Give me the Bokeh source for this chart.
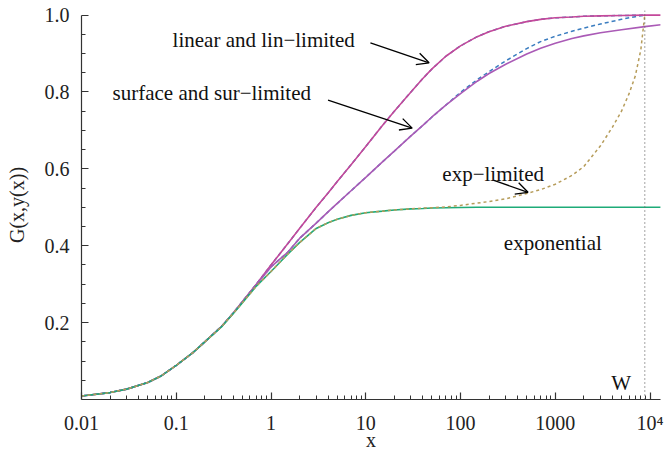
from bokeh.plotting import figure
from bokeh.models import Range1d, FixedTicker, Span, Arrow, OpenHead, Label
from bokeh.embed import file_html
from bokeh.resources import INLINE

# ---------------- data ----------------
W = 8800

x_vals = [0.01, 0.02, 0.03, 0.05, 0.07, 0.1, 0.15, 0.2, 0.3, 0.4, 0.5, 0.7, 1, 1.5, 2, 3,
          4, 5, 7, 10, 15, 20, 30, 40, 50, 70, 100, 150, 200, 300, 500, 700, 1000, 1500,
          2000, 3000, 5000, 8800, 13000]

linear = [0.009, 0.018, 0.027, 0.044, 0.062, 0.089, 0.122, 0.150, 0.190, 0.225, 0.255,
          0.300, 0.350, 0.405, 0.445, 0.500, 0.537, 0.567, 0.611, 0.658, 0.713, 0.750,
          0.800, 0.835, 0.860, 0.893, 0.920, 0.944, 0.957, 0.971, 0.983, 0.989, 0.993,
          0.995, 0.997, 0.998, 0.999, 1.000, 1.000]

surface = [0.009, 0.018, 0.027, 0.044, 0.062, 0.089, 0.122, 0.150, 0.190, 0.225, 0.254,
           0.299, 0.345, 0.383, 0.419, 0.459, 0.488, 0.510, 0.543, 0.578, 0.618, 0.646,
           0.686, 0.713, 0.735, 0.766, 0.796, 0.828, 0.848, 0.872, 0.899, 0.914, 0.927,
           0.939, 0.946, 0.954, 0.962, 0.970, 0.975]

exponential = [0.009, 0.018, 0.027, 0.044, 0.062, 0.089, 0.122, 0.150, 0.189, 0.224, 0.252,
               0.295, 0.333, 0.378, 0.408, 0.445, 0.460, 0.469, 0.479, 0.486, 0.490, 0.493,
               0.496, 0.497, 0.498, 0.499, 0.4995, 0.500, 0.500, 0.500, 0.500, 0.500, 0.500,
               0.500, 0.500, 0.500, 0.500, 0.500, 0.500]

x_lim = [0.01, 0.02, 0.03, 0.05, 0.07, 0.1, 0.15, 0.2, 0.3, 0.4, 0.5, 0.7, 1, 1.5, 2, 3,
         4, 5, 7, 10, 15, 20, 30, 40, 50, 70, 100, 150, 200, 300, 500, 700, 1000, 1500,
         2000, 3000, 5000, 7000, 8800]

lin_limited = [0.009, 0.018, 0.027, 0.044, 0.062, 0.089, 0.122, 0.150, 0.190, 0.225, 0.255,
               0.300, 0.350, 0.405, 0.445, 0.500, 0.537, 0.567, 0.611, 0.658, 0.713, 0.750,
               0.800, 0.835, 0.860, 0.893, 0.920, 0.944, 0.957, 0.971, 0.983, 0.989, 0.993,
               0.995, 0.997, 0.998, 0.999, 0.9995, 1.000]

sur_limited = [0.009, 0.018, 0.027, 0.044, 0.062, 0.089, 0.122, 0.150, 0.190, 0.225, 0.254,
               0.299, 0.345, 0.383, 0.419, 0.459, 0.488, 0.510, 0.543, 0.578, 0.618, 0.646,
               0.686, 0.713, 0.735, 0.766, 0.799, 0.832, 0.853, 0.881, 0.913, 0.931, 0.945,
               0.958, 0.966, 0.977, 0.989, 0.996, 1.000]

x_explim = [0.01, 0.02, 0.03, 0.05, 0.07, 0.1, 0.15, 0.2, 0.3, 0.4, 0.5, 0.7, 1, 1.5, 2, 3,
            4, 5, 7, 10, 15, 20, 30, 40, 50, 70, 100, 150, 200, 300, 500, 700, 1000, 1500,
            2000, 3000, 4000, 5000, 6000, 7000, 8000, 8800]

exp_limited = [0.009, 0.018, 0.027, 0.044, 0.062, 0.089, 0.122, 0.150, 0.189, 0.224, 0.252,
               0.295, 0.333, 0.378, 0.408, 0.445, 0.460, 0.469, 0.479, 0.486, 0.490, 0.493,
               0.496, 0.498, 0.499, 0.501, 0.505, 0.511, 0.515, 0.522, 0.536, 0.546, 0.560,
               0.583, 0.606, 0.660, 0.708, 0.750, 0.795, 0.842, 0.910, 1.000]

x_ticks = [0.01, 0.1, 1, 10, 100, 1000, 10000]
x_tick_labels = ["0.01", "0.1", "1", "10", "100", "1000", "10⁴"]
x_minor = [k * 10.0 ** d for d in range(-2, 5) for k in range(2, 10)]

y_ticks = [0.2, 0.4, 0.6, 0.8, 1.0]
y_tick_labels = ["0.2", "0.4", "0.6", "0.8", "1.0"]
y_minor = [0.05, 0.1, 0.15, 0.25, 0.3, 0.35, 0.45, 0.5, 0.55, 0.65, 0.7, 0.75, 0.85, 0.9, 0.95]

# ---------------- styling ----------------
FONT = "Liberation Serif"
C_LIN = "#c4489a"
C_SUR = "#aa5ab6"
C_EXP = "#1eab78"
C_BLUE = "#3b7dc0"
C_TAN = "#b69c5a"

p = figure(width=665, height=459, x_axis_type="log",
           x_range=Range1d(0.01, 12900), y_range=Range1d(0, 1.012),
           output_backend="svg", toolbar_location=None,
           min_border_left=81, min_border_right=5, min_border_top=10, min_border_bottom=60)

p.outline_line_color = None
p.xgrid.grid_line_color = None
p.ygrid.grid_line_color = None
p.background_fill_color = "white"

p.xaxis.ticker = FixedTicker(ticks=x_ticks, minor_ticks=x_minor)
p.xaxis.major_label_overrides = dict(zip(x_ticks, x_tick_labels))
p.yaxis.ticker = FixedTicker(ticks=y_ticks, minor_ticks=y_minor)
p.yaxis.major_label_overrides = dict(zip(y_ticks, y_tick_labels))
p.yaxis.bounds = (0, 1)

p.xaxis.axis_label = "x"
p.yaxis.axis_label = "G(x,y(x))"

for ax in (p.xaxis[0], p.yaxis[0]):
    ax.axis_line_color = "#333333"
    ax.axis_line_width = 1.2
    ax.major_tick_line_color = "#333333"
    ax.minor_tick_line_color = "#333333"
    ax.major_tick_line_width = 1.2
    ax.minor_tick_line_width = 1.0
    ax.major_tick_in = 7
    ax.major_tick_out = 0
    ax.minor_tick_in = 4
    ax.minor_tick_out = 0
    ax.major_label_text_font = FONT
    ax.major_label_text_font_size = "20px"
    ax.major_label_text_color = "#222222"
    ax.major_label_text_line_height = 0.9
    ax.axis_label_text_font = FONT
    ax.axis_label_text_font_size = "20px"
    ax.axis_label_text_font_style = "normal"
    ax.axis_label_text_color = "#222222"
    ax.axis_label_text_line_height = 0.9

p.xaxis.major_label_standoff = 12
p.xaxis.axis_label_standoff = -8
p.yaxis.major_label_standoff = 12
p.yaxis.axis_label_standoff = 14

# W marker
p.add_layout(Span(location=W, dimension="height", line_color="#666666",
                  line_dash="1 3", line_width=1.2))

# limited curves first (dashed), the plain ones drawn over them
p.line(x_lim, lin_limited, line_color=C_BLUE, line_width=1.5, line_dash="4 3")
p.line(x_lim, sur_limited, line_color=C_BLUE, line_width=1.5, line_dash="4 3")
p.line(x_vals, linear, line_color=C_LIN, line_width=1.6)
p.line(x_vals, surface, line_color=C_SUR, line_width=1.6)
p.line(x_vals, exponential, line_color=C_EXP, line_width=1.6)
p.line(x_explim, exp_limited, line_color=C_TAN, line_width=1.5, line_dash="3 3")

# annotations
def lab(x, y, t, size="21px"):
    p.add_layout(Label(x=x, y=y, text=t, text_font=FONT, text_font_size=size,
                       text_color="#111111", text_align="center",
                       text_baseline="alphabetic"))

lab(0.837, 0.934, "linear and lin−limited")
lab(0.237, 0.798, "surface and sur−limited")
lab(221, 0.587, "exp−limited")
lab(942, 0.407, "exponential")
lab(4950, 0.042, "W")

def arr(x0, y0, x1, y1):
    p.add_layout(Arrow(x_start=x0, y_start=y0, x_end=x1, y_end=y1,
                       line_color="black", line_width=1.3,
                       end=OpenHead(size=12, line_width=1.3, line_color="black")))

arr(11.2, 0.928, 46.6, 0.876)
arr(4.0, 0.779, 30.9, 0.706)
arr(225, 0.570, 516, 0.539)

open("out.html", "w").write(file_html(p, INLINE))
